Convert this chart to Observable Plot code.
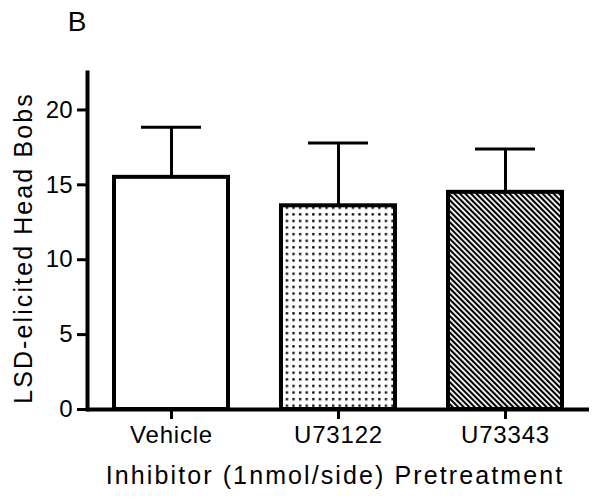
<!DOCTYPE html>
<html>
<head>
<meta charset="utf-8">
<script src="https://cdn.jsdelivr.net/npm/d3@7"></script>
<script src="https://cdn.jsdelivr.net/npm/@observablehq/plot@0.6"></script>
<style>
  html, body { margin: 0; padding: 0; background: #fff; }
</style>
</head>
<body>
<div id="chart"></div>
<script>
const categories = ["Vehicle", "U73122", "U73343"];
const means = [15.5, 13.6, 14.5];
const sems = [3.35, 4.2, 2.9];
const yTicks = [0, 5, 10, 15, 20];
const fills = ["white", "url(#dots)", "url(#hatch)"];
const yLabel = "LSD-elicited Head Bobs";
const xLabel = "Inhibitor (1nmol/side) Pretreatment";
const panelLabel = "B";

const data = categories.map((c, i) => ({category: c, mean: means[i], sem: sems[i], top: means[i] + sems[i]}));

const font = "'Liberation Sans', Arial, Helvetica, sans-serif";

const svg = Plot.plot({
  width: 601,
  height: 499,
  marginLeft: 87,
  marginRight: 12,
  marginTop: 72,
  marginBottom: 90,
  style: {fontFamily: font, fontSize: "24px", background: "white", color: "black"},
  x: {domain: categories, paddingInner: 0.32, paddingOuter: 0.16, label: null},
  y: {domain: [0, 22.5], label: null},
  color: {type: "ordinal", domain: categories, range: fills},
  marks: [
    Plot.barY(data, {x: "category", y: "mean", fill: "category", stroke: "black", strokeWidth: 4}),
    Plot.ruleX(data, {x: "category", y1: "mean", y2: "top", stroke: "black", strokeWidth: 3}),
    Plot.tickY(data, {x: "category", y: "top", stroke: "black", strokeWidth: 3, insetLeft: 27, insetRight: 27}),
    Plot.frame({anchor: "left", stroke: "black", strokeWidth: 4}),
    Plot.ruleY([0], {stroke: "black", strokeWidth: 4}),
    Plot.axisY({ticks: yTicks, tickSize: 10, tickPadding: 5, strokeWidth: 3, fontSize: 24, label: null}),
    Plot.axisX({tickSize: 10, tickPadding: 6, strokeWidth: 3, fontSize: 24, label: null, className: "xticks"}),
    Plot.text([yLabel], {text: d => d, frameAnchor: "left", textAnchor: "middle", lineAnchor: "middle", dx: -64, dy: 7, rotate: -90, fontSize: 25, className: "spaced"}),
    Plot.text([xLabel], {text: d => d, frameAnchor: "bottom", textAnchor: "middle", lineAnchor: "middle", dx: -3.5, dy: 66, fontSize: 25, className: "spaced"}),
    Plot.text([panelLabel], {text: d => d, frameAnchor: "top-left", textAnchor: "middle", lineAnchor: "middle", dx: -10.5, dy: -50, fontSize: 28})
  ]
});

const ns = "http://www.w3.org/2000/svg";
const defs = document.createElementNS(ns, "defs");
defs.innerHTML = `
  <style>
    .spaced text { letter-spacing: 2.1px; }
    .xticks text { letter-spacing: 0.8px; }
  </style>
  <pattern id="dots" patternUnits="userSpaceOnUse" width="6.6" height="6.6">
    <rect width="6.6" height="6.6" fill="white"/>
    <rect x="2" y="2" width="2.3" height="2.3" fill="black"/>
  </pattern>
  <pattern id="hatch" patternUnits="userSpaceOnUse" width="3.9" height="10" patternTransform="rotate(-45)">
    <rect width="3.9" height="10" fill="white"/>
    <rect x="0" y="0" width="2.1" height="10" fill="black"/>
  </pattern>`;
svg.insertBefore(defs, svg.firstChild);

document.getElementById("chart").appendChild(svg);
</script>
</body>
</html>
